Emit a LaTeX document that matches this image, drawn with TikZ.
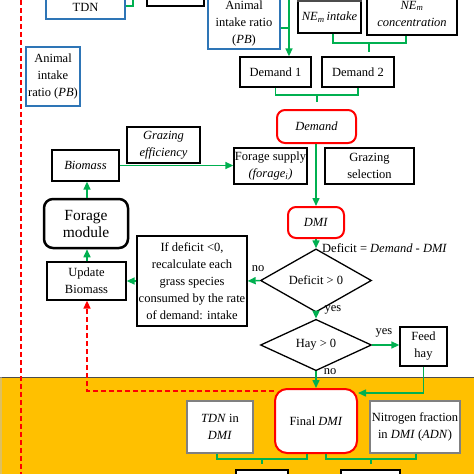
\documentclass[tikz,border=0pt]{standalone}
\usepackage{fontspec}
\setmainfont{Liberation Serif}
\usetikzlibrary{arrows.meta,shapes.geometric}
\definecolor{fgreen}{HTML}{00B050}
\definecolor{fblue}{HTML}{2E75B6}
\definecolor{fred}{HTML}{FF0000}
\definecolor{forange}{HTML}{FFC000}
\begin{document}
\begin{tikzpicture}[x=1pt,y=-1pt,
  font=\fontsize{12.5}{17}\selectfont,
  sz/.style 2 args={minimum width=#1pt, minimum height=#2pt},
  box/.style={draw=black, line width=1.3pt, fill=white, inner sep=0.5pt, align=center},
  bbox/.style={box, draw=fblue},
  gbox/.style={box, draw=gray},
  rbox/.style={box, draw=fred, line width=2pt, rounded corners=8pt},
  modbox/.style={box, line width=2.5pt, rounded corners=9pt, font=\fontsize{15.5}{17}\selectfont},
  dbox/.style={diamond, draw=black, line width=1.3pt, fill=white, inner sep=0pt, align=center},
  gline/.style={draw=fgreen, line width=1.5pt},
  garrow/.style={gline, -{Triangle[length=8pt,width=7pt]}},
  rdash/.style={draw=fred, line width=1.5pt, dash pattern=on 5pt off 3pt},
  lab/.style={inner sep=0pt}
]
\useasboundingbox (0,0) rectangle (474,474);
\clip (0,0) rectangle (474,474);
% orange region
\fill[forange] (0,377) rectangle (474,480);
\draw[black!70, line width=0.8pt] (0,377) -- (474,377);
\fill[black!25, opacity=0.5] (0,377) rectangle (2,480);

% nodes
\node[bbox, sz={79}{24}] (tdn) at (85.5,7) {TDN};
\node[box, sz={57}{26}] (blk) at (175.5,-7) {};
\node[bbox, sz={72}{52}] (air) at (244,23) {Animal\\intake ratio\\(\textit{PB})};
\node[box, sz={63}{32}] (neint) at (329.5,17) {\textit{NE}\textsubscript{\textit{m}}\,\textit{intake}};
\draw[black!70, line width=2.5pt] (neint.north west) -- (neint.north east);
\node[box, sz={90}{43}] (neconc) at (412,13.5) {\textit{NE}\textsubscript{\textit{m}}\\\textit{concentration}};
\node[bbox, sz={54}{59}] (air2) at (53,76.5) {Animal\\intake\\ratio (\textit{PB})};
\node[box, sz={71}{30}] (d1) at (275.5,72) {Demand 1};
\node[box, sz={72}{30}] (d2) at (358,72) {Demand 2};
\node[rbox, sz={79}{33}] (demand) at (316.5,126.5) {\textit{Demand}};
\node[box, sz={73}{36}] (fsup) at (270.5,166) {Forage supply\\\textit{(forage}\textsubscript{\textit{i}}\textit{)}};
\node[box, sz={89}{36}] (gsel) at (369.5,166) {Grazing\\selection};
\node[box, sz={67}{31}] (bio) at (85.5,165.5) {\textit{Biomass}};
\node[box, sz={73}{36}] (geff) at (163.5,145) {\textit{Grazing}\\\textit{efficiency}};
\node[modbox, sz={84}{49}] (mod) at (86,223.5) {Forage\\module};
\node[rbox, sz={56}{31}] (dmi) at (316,222.5) {\textit{DMI}};
\node[box, sz={79}{38}] (upd) at (86.5,281) {Update\\Biomass};
\node[box, sz={110}{90}] (ifd) at (192,281) {If deficit <0,\\recalculate each\\grass species\\consumed by the rate\\of demand: intake};
\node[dbox, sz={111}{46}] (defd) at (316,280.5) {Deficit > 0};
\node[dbox, sz={111}{46}] (hayd) at (316,345) {Hay > 0};
\node[box, sz={47}{39}] (feed) at (423.5,346.5) {Feed\\hay};
\node[rbox, sz={82}{64}, rounded corners=12pt] (final) at (316,421) {Final \textit{DMI}};
\node[gbox, sz={66}{52}] (tdnin) at (220,427) {\textit{TDN} in\\\textit{DMI}};
\node[gbox, sz={90}{52}] (nfrac) at (415,427) {Nitrogen fraction\\in \textit{DMI} (\textit{ADN})};
\node[box, sz={52}{20}] (b1) at (262,480) {};
\node[box, sz={59}{20}] (b2) at (370.5,480) {};

% coordinates
\coordinate (ltop) at (21,0);
\coordinate (lbot) at (21,474);
\coordinate (t1) at (133,-10);
\coordinate (a1) at (289,-10);
\coordinate (nb) at (369,43);
\coordinate (nbs) at (369,52);
\coordinate (db) at (317,95);
\coordinate (dbs) at (317,102);
\coordinate (fb1) at (262,459);
\coordinate (fb1s) at (262,464);
\coordinate (fb2) at (371,459);
\coordinate (fb2s) at (371,464);

% left dashed line
\draw[rdash] (ltop) -- (lbot);

% connectors
\draw[gline] (tdn.east |- 0,6) -| (t1);
\draw[gline] (air.east |- 0,28) -- (289,28);
\draw[garrow] (a1) -- (d1.north -| a1);
\draw[gline] (neint.south -| 333,0) |- (nb) -| (neconc.south -| 406,0);
\draw[gline] (nb) -- (nbs);
\draw[gline] (d1.south) |- (db) -| (d2.south);
\draw[gline] (db) -- (dbs);
\draw[garrow] (demand.south -| dmi.north) -- (dmi.north);
\draw[garrow] (bio.east) -- (fsup.west |- bio.east);
\draw[garrow] (mod.north -| 87,0) -- (bio.south -| 87,0);
\draw[garrow] (upd.north -| 87,0) -- (mod.south -| 87,0);
\draw[garrow] (ifd.west) -- (upd.east);
\draw[garrow] (dmi.south) -- (defd.north);
\draw[garrow] (defd.west) -- (ifd.east);
\draw[garrow] (defd.south) -- (hayd.north);
\draw[garrow] (hayd.east) -- (feed.west |- hayd.east);
\draw[garrow] (hayd.south) -- (final.north);
\draw[garrow] (feed.south) |- (final.east |- 0,393);
\draw[rdash, -{Triangle[length=8pt,width=7pt]}] (final.west |- 0,391) -| (upd.south -| 87,0);
\draw[gline] (tdnin.south -| 217,0) |- (fb1) -| (final.south -| 307,0);
\draw[gline] (fb1) -- (fb1s);
\draw[gline] (final.south -| 326,0) |- (fb2) -| (nfrac.south -| 416,0);
\draw[gline] (fb2) -- (fb2s);

% labels
\node[lab, anchor=west] (deflab) at (322,248) {Deficit = \textit{Demand} - \textit{DMI}};
\node[lab] (no1) at (258,269) {no};
\node[lab] (yes1) at (333,310) {yes};
\node[lab] (yes2) at (384,333) {yes};
\node[lab] (no2) at (330,372) {no};
\end{tikzpicture}
\end{document}
